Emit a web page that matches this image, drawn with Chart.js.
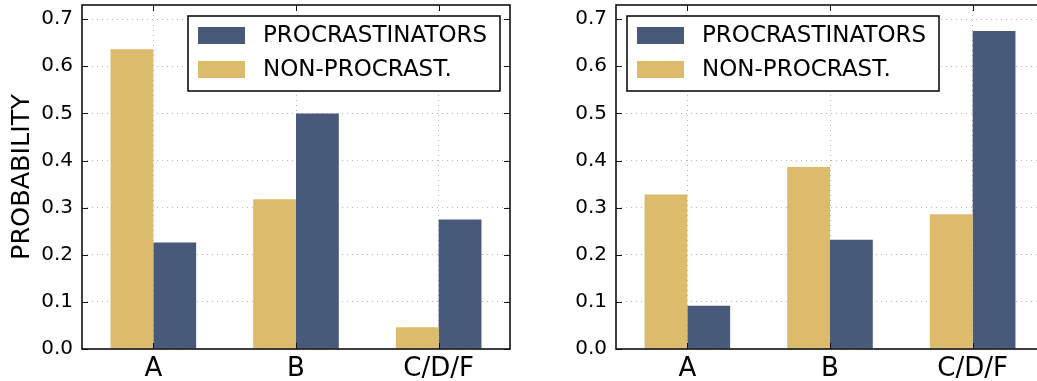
<!DOCTYPE html>
<html>
<head>
    <title>Procrastination grades</title>
    <script src="https://cdn.jsdelivr.net/npm/chart.js"></script>
    <style>
        html, body { margin: 0; padding: 0; background: #fff; overflow: hidden; }
        body { width: 1037px; height: 381px; position: relative; }
        .box { position: absolute; top: 0; }
    </style>
    <script>
        // grade categories and probabilities
        const categories = ['A', 'B', 'C/D/F'];
        const seriesNames = ['NON-PROCRAST.', 'PROCRASTINATORS'];
        const leftNonProc = [0.636, 0.318, 0.046];
        const leftProc = [0.226, 0.500, 0.275];
        const rightNonProc = [0.328, 0.386, 0.286];
        const rightProc = [0.092, 0.232, 0.675];
        const yTicks = [0, 0.1, 0.2, 0.3, 0.4, 0.5, 0.6, 0.7];

        const GOLD = '#dcbb6c';
        const BLUE = '#485a7a';
        const FONT = "'DejaVu Sans', sans-serif";

        // frame, inward ticks on all four sides and a boxed legend inside the plot
        const framePlugin = {
            id: 'frame',
            afterDatasetsDraw(chart, args, opts) {
                const ctx = chart.ctx;
                const a = chart.chartArea;
                const xs = chart.scales.x, ys = chart.scales.y;
                ctx.save();
                ctx.strokeStyle = '#111';
                ctx.lineWidth = 1;
                const tl = 6;
                ctx.beginPath();
                xs.ticks.forEach((t, i) => {
                    const x = Math.round(xs.getPixelForTick(i)) + 0.5;
                    ctx.moveTo(x, a.bottom); ctx.lineTo(x, a.bottom - tl);
                    ctx.moveTo(x, a.top); ctx.lineTo(x, a.top + tl);
                });
                ys.ticks.forEach(t => {
                    const y = Math.round(ys.getPixelForValue(t.value)) + 0.5;
                    ctx.moveTo(a.left, y); ctx.lineTo(a.left + tl, y);
                    ctx.moveTo(a.right, y); ctx.lineTo(a.right - tl, y);
                });
                ctx.stroke();
                ctx.lineWidth = 1.6;
                ctx.strokeRect(a.left, a.top, a.right - a.left, a.bottom - a.top);

                // legend
                const w = 312, h = 75;
                const bx = opts.side === 'right' ? a.right - 10 - w : a.left + 11;
                const by = a.top + 11;
                ctx.fillStyle = '#fff';
                ctx.fillRect(bx, by, w, h);
                ctx.lineWidth = 1.5;
                ctx.strokeStyle = '#000';
                ctx.strokeRect(bx, by, w, h);
                const items = chart.data.datasets.slice().reverse();
                ctx.font = '23px ' + FONT;
                ctx.textBaseline = 'middle';
                items.forEach((ds, i) => {
                    const cy = by + 19 + i * 34;
                    ctx.fillStyle = ds.backgroundColor;
                    ctx.fillRect(bx + 10, cy - 8, 47, 17);
                    ctx.fillStyle = '#000';
                    ctx.fillText(ds.label, bx + 75, cy + 1);
                });
                ctx.restore();
            }
        };

        function makeChart(id, nonProc, proc, side, showTitle) {
            const ctx = document.getElementById(id).getContext('2d');
            return new Chart(ctx, {
                type: 'bar',
                data: {
                    labels: categories,
                    datasets: [
                        { label: seriesNames[0], data: nonProc, backgroundColor: GOLD },
                        { label: seriesNames[1], data: proc, backgroundColor: BLUE }
                    ]
                },
                options: {
                    responsive: false,
                    animation: false,
                    devicePixelRatio: 1,
                    layout: { padding: { top: 5, right: 10, bottom: 0, left: 0 } },
                    datasets: { bar: { categoryPercentage: 0.6, barPercentage: 1.0, borderWidth: 0 } },
                    plugins: {
                        legend: { display: false },
                        tooltip: { enabled: false },
                        frame: { side: side }
                    },
                    scales: {
                        x: {
                            grid: { offset: false, drawTicks: false, color: 'rgba(0,0,0,0.28)' },
                            border: { display: false, dash: [1, 4] },
                            ticks: { color: '#000', padding: 5, font: { family: FONT, size: 26 } },
                            afterFit(s) { s.height = 32; s.paddingLeft = 0; s.paddingRight = 0; }
                        },
                        y: {
                            min: 0,
                            max: 0.73,
                            grid: { drawTicks: false, color: 'rgba(0,0,0,0.28)' },
                            border: { display: false, dash: [1, 4] },
                            ticks: {
                                stepSize: 0.1,
                                includeBounds: false,
                                color: '#000',
                                padding: 9,
                                font: { family: FONT, size: 20 },
                                callback: v => v.toFixed(1)
                            },
                            afterBuildTicks(s) { s.ticks = yTicks.map(v => ({ value: v })); },
                            title: {
                                display: showTitle,
                                text: 'PROBABILITY',
                                color: '#000',
                                padding: { top: 7, bottom: 0 },
                                font: { family: FONT, size: 25.5 }
                            },
                            afterFit(s) { s.width = 82; s.paddingTop = 0; s.paddingBottom = 0; }
                        }
                    }
                },
                plugins: [framePlugin]
            });
        }

        document.addEventListener('DOMContentLoaded', function() {
            makeChart('leftChart', leftNonProc, leftProc, 'right', true);
            makeChart('rightChart', rightNonProc, rightProc, 'left', false);
        });
    </script>
</head>
<body>
<div class="box" style="left:0px"><canvas id="leftChart" width="520" height="381"></canvas></div>
<div class="box" style="left:534px"><canvas id="rightChart" width="520" height="381"></canvas></div>
</body>
</html>
